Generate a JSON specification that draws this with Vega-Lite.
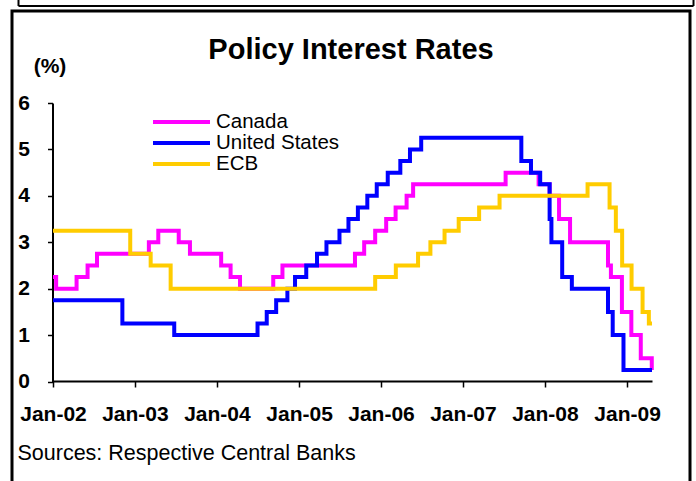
{
  "$schema": "https://vega.github.io/schema/vega-lite/v6.json",
  "usermeta": {"embedOptions": {"actions": false}},
  "width": 678,
  "height": 480,
  "autosize": {"type": "none"},
  "padding": {"left": 12, "top": 11, "right": 6, "bottom": -10},
  "background": "white",
  "title": {
    "text": "Policy Interest Rates",
    "frame": "group",
    "anchor": "middle",
    "offset": -68,
    "font": "Liberation Sans",
    "fontSize": 29,
    "fontWeight": "bold",
    "color": "black"
  },
  "data": {
    "values": [
      {"series": "Canada", "date": "2002-01-01", "rate": 2.25},
      {"series": "Canada", "date": "2002-01-15", "rate": 2.0},
      {"series": "Canada", "date": "2002-04-16", "rate": 2.25},
      {"series": "Canada", "date": "2002-06-04", "rate": 2.5},
      {"series": "Canada", "date": "2002-07-16", "rate": 2.75},
      {"series": "Canada", "date": "2003-03-04", "rate": 3.0},
      {"series": "Canada", "date": "2003-04-15", "rate": 3.25},
      {"series": "Canada", "date": "2003-07-15", "rate": 3.0},
      {"series": "Canada", "date": "2003-09-03", "rate": 2.75},
      {"series": "Canada", "date": "2004-01-20", "rate": 2.5},
      {"series": "Canada", "date": "2004-03-02", "rate": 2.25},
      {"series": "Canada", "date": "2004-04-13", "rate": 2.0},
      {"series": "Canada", "date": "2004-09-08", "rate": 2.25},
      {"series": "Canada", "date": "2004-10-19", "rate": 2.5},
      {"series": "Canada", "date": "2005-09-07", "rate": 2.75},
      {"series": "Canada", "date": "2005-10-18", "rate": 3.0},
      {"series": "Canada", "date": "2005-12-06", "rate": 3.25},
      {"series": "Canada", "date": "2006-01-24", "rate": 3.5},
      {"series": "Canada", "date": "2006-03-07", "rate": 3.75},
      {"series": "Canada", "date": "2006-04-25", "rate": 4.0},
      {"series": "Canada", "date": "2006-05-24", "rate": 4.25},
      {"series": "Canada", "date": "2007-07-10", "rate": 4.5},
      {"series": "Canada", "date": "2007-12-04", "rate": 4.25},
      {"series": "Canada", "date": "2008-01-22", "rate": 4.0},
      {"series": "Canada", "date": "2008-03-04", "rate": 3.5},
      {"series": "Canada", "date": "2008-04-22", "rate": 3.0},
      {"series": "Canada", "date": "2008-10-08", "rate": 2.5},
      {"series": "Canada", "date": "2008-10-21", "rate": 2.25},
      {"series": "Canada", "date": "2008-12-09", "rate": 1.5},
      {"series": "Canada", "date": "2009-01-20", "rate": 1.0},
      {"series": "Canada", "date": "2009-03-03", "rate": 0.5},
      {"series": "Canada", "date": "2009-04-21", "rate": 0.25},
      {"series": "Canada", "date": "2009-04-22", "rate": 0.25},
      {"series": "United States", "date": "2002-01-01", "rate": 1.75},
      {"series": "United States", "date": "2002-11-06", "rate": 1.25},
      {"series": "United States", "date": "2003-06-25", "rate": 1.0},
      {"series": "United States", "date": "2004-06-30", "rate": 1.25},
      {"series": "United States", "date": "2004-08-10", "rate": 1.5},
      {"series": "United States", "date": "2004-09-21", "rate": 1.75},
      {"series": "United States", "date": "2004-11-10", "rate": 2.0},
      {"series": "United States", "date": "2004-12-14", "rate": 2.25},
      {"series": "United States", "date": "2005-02-02", "rate": 2.5},
      {"series": "United States", "date": "2005-03-22", "rate": 2.75},
      {"series": "United States", "date": "2005-05-03", "rate": 3.0},
      {"series": "United States", "date": "2005-06-30", "rate": 3.25},
      {"series": "United States", "date": "2005-08-09", "rate": 3.5},
      {"series": "United States", "date": "2005-09-20", "rate": 3.75},
      {"series": "United States", "date": "2005-11-01", "rate": 4.0},
      {"series": "United States", "date": "2005-12-13", "rate": 4.25},
      {"series": "United States", "date": "2006-01-31", "rate": 4.5},
      {"series": "United States", "date": "2006-03-28", "rate": 4.75},
      {"series": "United States", "date": "2006-05-10", "rate": 5.0},
      {"series": "United States", "date": "2006-06-29", "rate": 5.25},
      {"series": "United States", "date": "2007-09-18", "rate": 4.75},
      {"series": "United States", "date": "2007-10-31", "rate": 4.5},
      {"series": "United States", "date": "2007-12-11", "rate": 4.25},
      {"series": "United States", "date": "2008-01-22", "rate": 3.5},
      {"series": "United States", "date": "2008-01-30", "rate": 3.0},
      {"series": "United States", "date": "2008-03-18", "rate": 2.25},
      {"series": "United States", "date": "2008-04-30", "rate": 2.0},
      {"series": "United States", "date": "2008-10-08", "rate": 1.5},
      {"series": "United States", "date": "2008-10-29", "rate": 1.0},
      {"series": "United States", "date": "2008-12-16", "rate": 0.25},
      {"series": "United States", "date": "2009-04-22", "rate": 0.25},
      {"series": "ECB", "date": "2002-01-01", "rate": 3.25},
      {"series": "ECB", "date": "2002-12-11", "rate": 2.75},
      {"series": "ECB", "date": "2003-03-12", "rate": 2.5},
      {"series": "ECB", "date": "2003-06-09", "rate": 2.0},
      {"series": "ECB", "date": "2005-12-06", "rate": 2.25},
      {"series": "ECB", "date": "2006-03-08", "rate": 2.5},
      {"series": "ECB", "date": "2006-06-15", "rate": 2.75},
      {"series": "ECB", "date": "2006-08-09", "rate": 3.0},
      {"series": "ECB", "date": "2006-10-11", "rate": 3.25},
      {"series": "ECB", "date": "2006-12-13", "rate": 3.5},
      {"series": "ECB", "date": "2007-03-14", "rate": 3.75},
      {"series": "ECB", "date": "2007-06-13", "rate": 4.0},
      {"series": "ECB", "date": "2008-07-09", "rate": 4.25},
      {"series": "ECB", "date": "2008-10-15", "rate": 3.75},
      {"series": "ECB", "date": "2008-11-12", "rate": 3.25},
      {"series": "ECB", "date": "2008-12-10", "rate": 2.5},
      {"series": "ECB", "date": "2009-01-21", "rate": 2.0},
      {"series": "ECB", "date": "2009-03-11", "rate": 1.5},
      {"series": "ECB", "date": "2009-04-08", "rate": 1.25},
      {"series": "ECB", "date": "2009-04-22", "rate": 1.25}
    ]
  },
  "layer": [
    {
      "mark": {"type": "line", "interpolate": "step-after", "strokeWidth": 4},
      "encoding": {
        "x": {
          "field": "date",
          "type": "temporal",
          "scale": {
            "type": "utc",
            "domain": [
              {"year": 2002, "month": 1, "date": 1, "utc": true},
              {"year": 2009, "month": 4, "date": 22, "utc": true}
            ],
            "range": [41, 640],
            "nice": false
          },
          "axis": {
            "orient": "bottom",
            "offset": -110,
            "values": [
              {"year": 2002, "month": 1, "date": 1, "utc": true},
              {"year": 2003, "month": 1, "date": 1, "utc": true},
              {"year": 2004, "month": 1, "date": 1, "utc": true},
              {"year": 2005, "month": 1, "date": 1, "utc": true},
              {"year": 2006, "month": 1, "date": 1, "utc": true},
              {"year": 2007, "month": 1, "date": 1, "utc": true},
              {"year": 2008, "month": 1, "date": 1, "utc": true},
              {"year": 2009, "month": 1, "date": 1, "utc": true}
            ],
            "format": "%b-%y",
            "grid": false,
            "domainColor": "black",
            "domainWidth": 2,
            "tickColor": "black",
            "tickWidth": 1.5,
            "tickSize": 6,
            "labelFont": "Liberation Sans",
            "labelFontSize": 21,
            "labelFontWeight": "bold",
            "labelColor": "black",
            "labelPadding": 16,
            "labelFlush": false,
            "labelOverlap": false,
            "labelBound": false,
            "title": "Sources: Respective Central Banks",
            "titleX": 5,
            "titleY": 78,
            "titleAlign": "left",
            "titleAnchor": "start",
            "titleBaseline": "alphabetic",
            "titleFont": "Liberation Sans",
            "titleFontSize": 21.5,
            "titleFontWeight": "normal",
            "titleColor": "black"
          }
        },
        "y": {
          "field": "rate",
          "type": "quantitative",
          "scale": {"domain": [0, 6], "range": [370.5, 92], "nice": false, "zero": false},
          "axis": {
            "orient": "left",
            "offset": -40.5,
            "values": [0, 1, 2, 3, 4, 5, 6],
            "grid": false,
            "domainColor": "black",
            "domainWidth": 2,
            "tickColor": "black",
            "tickWidth": 1.5,
            "tickSize": 5,
            "labelFont": "Liberation Sans",
            "labelFontSize": 21,
            "labelFontWeight": "bold",
            "labelColor": "black",
            "labelPadding": 18,
            "labelBound": false,
            "labelFlush": false,
            "title": "(%)",
            "titleAngle": 0,
            "titleX": -3,
            "titleY": 61.5,
            "titleAlign": "center",
            "titleBaseline": "alphabetic",
            "titleFont": "Liberation Sans",
            "titleFontSize": 21,
            "titleFontWeight": "bold",
            "titleColor": "black"
          }
        },
        "color": {
          "field": "series",
          "type": "nominal",
          "scale": {
            "domain": ["Canada", "United States", "ECB"],
            "range": ["#FF00FF", "#0000FF", "#FFCC00"]
          },
          "legend": {
            "orient": "none",
            "legendX": 139,
            "legendY": 100.5,
            "title": null,
            "symbolType": "stroke",
            "symbolSize": 3249,
            "symbolStrokeWidth": 4,
            "labelFont": "Liberation Sans",
            "labelFontSize": 20.5,
            "labelColor": "black",
            "labelOffset": 4,
            "labelLimit": 400,
            "clipHeight": 21,
            "rowPadding": 0,
            "padding": 0
          }
        }
      }
    },
    {
      "mark": {"type": "point", "opacity": 0},
      "encoding": {
        "x": {
          "field": "date",
          "type": "temporal",
          "scale": {
            "type": "utc",
            "domain": [
              {"year": 2002, "month": 1, "date": 1, "utc": true},
              {"year": 2009, "month": 4, "date": 22, "utc": true}
            ],
            "range": [6, 681],
            "nice": false
          },
          "axis": {
            "orient": "top",
            "offset": 5.5,
            "values": [
              {"year": 2002, "month": 1, "date": 1, "utc": true},
              {"year": 2009, "month": 4, "date": 22, "utc": true}
            ],
            "labels": false,
            "grid": false,
            "title": null,
            "domainColor": "black",
            "domainWidth": 2,
            "tickColor": "black",
            "tickWidth": 2,
            "tickSize": 8
          }
        }
      }
    }
  ],
  "resolve": {"scale": {"x": "independent"}, "axis": {"x": "independent"}},
  "config": {
    "view": {"stroke": "black", "strokeWidth": 3},
    "font": "Liberation Sans"
  }
}
